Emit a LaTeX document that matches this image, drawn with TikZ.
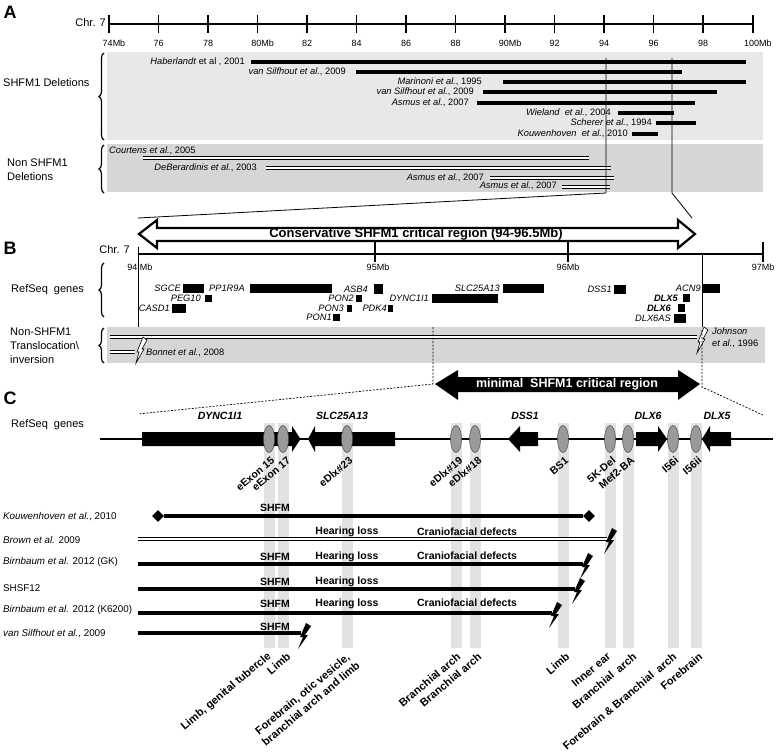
\documentclass[tikz,border=0pt]{standalone}
\usepackage{fontspec}
\setmainfont{Liberation Sans}
\usetikzlibrary{decorations.pathreplacing,shapes.geometric}
\definecolor{boxA}{HTML}{E8E8E8}
\definecolor{boxB}{HTML}{D6D6D6}
\definecolor{bandc}{HTML}{E2E2E2}
\definecolor{ellc}{HTML}{9A9A9A}
\begin{document}
\begin{tikzpicture}[x=1pt,y=-1pt,
  panel/.style={font=\fontsize{18}{20}\selectfont\bfseries, inner sep=0},
  side/.style={font=\fontsize{11}{14}\selectfont, inner sep=0, align=left, anchor=west},
  chrlab/.style={font=\fontsize{11}{13}\selectfont, inner sep=0, anchor=east},
  ticklab/.style={font=\fontsize{9}{10}\selectfont, inner sep=0},
  reflab/.style={font=\fontsize{9.3}{11}\selectfont, inner sep=0, anchor=east},
  genelab/.style={font=\fontsize{9.3}{11}\selectfont\itshape, inner sep=0, anchor=east},
  rowlab/.style={font=\fontsize{9.8}{12}\selectfont, inner sep=0, anchor=west},
  pheno/.style={font=\fontsize{10.5}{12}\selectfont\bfseries, inner sep=0},
  ctrack/.style={font=\fontsize{10.5}{12}\selectfont\bfseries\itshape, inner sep=0},
  elab/.style={font=\fontsize{10.5}{11}\selectfont\bfseries, inner sep=0, rotate=40, anchor=east},
  tlab/.style={font=\fontsize{11}{13}\selectfont\bfseries, inner sep=0, rotate=40, anchor=east, align=center},
  bar/.style={line width=4pt},
  cbar/.style={line width=3.5pt},
  dbl/.style={draw=black, line width=1.1pt, double=white, double distance=1.7pt},
  axis/.style={line width=1.5pt},
  thin/.style={line width=0.8pt},
  dsh/.style={line width=0.7pt, dash pattern=on 2pt off 1.5pt},
  brc/.style={decorate, decoration={brace, amplitude=5pt}, line width=1.2pt},
  enh/.style={ellipse, draw=black!70, fill=ellc, line width=0.5pt, minimum width=11pt, minimum height=27pt, inner sep=0},
  cbolt/.pic={\fill (2,-13) -- (7,-10) -- (1,-1) -- (4,-1) -- (-6,13) -- (-1,1) -- (-4,1) -- cycle;},
  obolt/.pic={\filldraw[fill=white, draw=black, line width=0.6pt] (3,-13) -- (7,-10) -- (2,-1) -- (4,-1) -- (-4,13) -- (-1,2) -- (-3,2) -- cycle;},
]
\useasboundingbox (0,0) rectangle (777,752);

%%%%%%%%%%%%%%%% Panel A
\node[panel] (pA) at (10,12) {A};
\fill[boxA] (107,52) rectangle (763,140);
\fill[boxB] (107,144) rectangle (763,192);
\node[chrlab] (chrA) at (106,23) {Chr. 7};
\draw[axis] (109,24) -- (752.7,24);
\foreach \v in {74,76,...,100}{\pgfmathsetmacro\xx{109+(\v-74)*24.76}\draw[axis] (\xx,15) -- (\xx,33);}
\foreach \v in {76,78,82,84,86,88,92,94,96,98}{\pgfmathsetmacro\xx{109+(\v-74)*24.76}\node[ticklab] (ta\v) at (\xx,43) {\v};}
\foreach \v in {74,80,90,100}{\pgfmathsetmacro\xx{109+(\v-74)*24.76+5}\node[ticklab] (ta\v) at (\xx,43) {\v Mb};}

\draw[brc] (104,140) -- (104,53);
\draw[brc] (104,193) -- (104,145);
\node[side] (sA1) at (3,83) {SHFM1 Deletions};
\node[side] (sA2) at (7,170) {Non SHFM1\\Deletions};

% SHFM1 deletions
\draw[bar] (251,62) -- (746,62);  \node[reflab] (a1) at (245,62) {\textit{Haberlandt} et al , 2001};
\draw[bar] (356,72) -- (682,72);  \node[reflab] (a2) at (346,72) {\textit{van Silfhout et al.}, 2009};
\draw[bar] (503,82) -- (746,82);  \node[reflab] (a3) at (482,82) {\textit{Marinoni et al.}, 1995};
\draw[bar] (483,92) -- (717,92);  \node[reflab] (a4) at (474,92) {\textit{van Silfhout et al.}, 2009};
\draw[bar] (477,103) -- (695,103); \node[reflab] (a5) at (469,103) {\textit{Asmus et al.}, 2007};
\draw[bar] (618,113) -- (674,113); \node[reflab] (a6) at (611,113) {\textit{Wieland\ \ et al.}, 2004};
\draw[bar] (656,123) -- (696,123); \node[reflab] (a7) at (652,123) {\textit{Scherer et al.}, 1994};
\draw[bar] (632,134) -- (658,134); \node[reflab] (a8) at (628,134) {\textit{Kouwenhoven\ \ et al.}, 2010};

% Non SHFM1 deletions
\node[reflab, anchor=west] (n1) at (109,151) {\textit{Courtens et al.}, 2005};
\draw[dbl] (143,158) -- (589,158);
\node[reflab] (n2) at (257,168) {\textit{DeBerardinis et al.}, 2003};
\draw[dbl] (266,168) -- (611,168);
\node[reflab] (n3) at (484,178) {\textit{Asmus et al.}, 2007};
\draw[dbl] (490,178) -- (614,178);
\node[reflab] (n4) at (557,186) {\textit{Asmus et al.}, 2007};
\draw[dbl] (562,187) -- (610,187);

% zoom lines
\draw[thin] (606,58) -- (606,193) -- (138,218);
\draw[thin] (672,58) -- (672,193) -- (692,218);

%%%%%%%%%%%%%%%% Panel B
\node[panel] (pB) at (10,248) {B};
\draw[line width=2.2pt, fill=white, line join=miter]
  (139,234) -- (157,220) -- (157,228) -- (678,228) -- (678,220) -- (695,234)
  -- (678,248) -- (678,241) -- (157,241) -- (157,248) -- cycle;
\node[font=\fontsize{13}{15}\selectfont\bfseries, inner sep=0] (cons) at (416,234.5) {Conservative SHFM1 critical region (94-96.5Mb)};

\node[chrlab] (chrB) at (130,250) {Chr. 7};
\draw[axis] (138,254) -- (763,254);
\draw[axis] (375,242) -- (375,262);
\draw[axis] (568,242) -- (568,262);
\draw[axis] (763,242) -- (763,262);
\draw[thin] (138,247) -- (138,340);
\node[ticklab] (tb94) at (140,267) {94 Mb};
\node[ticklab] (tb95) at (378,267) {95Mb};
\node[ticklab] (tb96) at (568,267) {96Mb};
\node[ticklab] (tb97) at (763,267) {97Mb};

\draw[brc] (104,317) -- (104,263);
\node[side] (sB1) at (11,290) {RefSeq\ \ genes};

% genes
\fill (183,284) rectangle (204,293); \node[genelab] (g1) at (181,288.5) {SGCE};
\fill (250,284) rectangle (332,293); \node[genelab] (g2) at (245,288.5) {PP1R9A};
\fill (205,295) rectangle (212,302); \node[genelab] (g3) at (201,298.5) {PEG10};
\fill (172,304) rectangle (186,313); \node[genelab] (g4) at (170,308.5) {CASD1};
\fill (374,284) rectangle (383,294); \node[genelab] (g5) at (368,289) {ASB4};
\fill (356,295) rectangle (362,302); \node[genelab] (g6) at (354,298.5) {PON2};
\fill (347,305) rectangle (352,312); \node[genelab] (g7) at (344,308.5) {PON3};
\fill (333,314) rectangle (340,321); \node[genelab] (g8) at (332,317.5) {PON1};
\fill (388,305) rectangle (393,312); \node[genelab] (g9) at (387,308.5) {PDK4};
\fill (432,294) rectangle (498,303); \node[genelab] (g10) at (429,298.5) {DYNC1I1};
\fill (503,284) rectangle (544,293); \node[genelab] (g11) at (500,288.5) {SLC25A13};
\fill (614,285) rectangle (626,294); \node[genelab] (g12) at (612,289.5) {DSS1};
\fill (703,284) rectangle (720,293); \node[genelab] (g13) at (701,288.5) {ACN9};
\fill (683,294) rectangle (690,302); \node[genelab, font=\fontsize{9.3}{11}\selectfont\bfseries\itshape] (g14) at (678,298) {DLX5};
\fill (678,304) rectangle (685,312); \node[genelab, font=\fontsize{9.3}{11}\selectfont\bfseries\itshape] (g15) at (671,308) {DLX6};
\fill (674,314) rectangle (686,323); \node[genelab] (g16) at (671,318.5) {DLX6AS};

% non-SHFM1 translocations
\fill[boxB] (107,327) rectangle (765,363);
\draw[brc] (104,363) -- (104,328);
\node[side, font=\fontsize{11}{14}\selectfont] (sB2) at (10,346) {Non-SHFM1\\Translocation\textbackslash\\inversion};
\coordinate (jL) at (110,337);
\coordinate (jR) at (697,337);
\draw[dbl] (jL) -- (jR);
\coordinate (bL) at (110,352);
\coordinate (bR) at (135,352);
\draw[dbl] (bL) -- (bR);
\draw[thin] (702,254) -- (702,327);
\pic at (140,350) {obolt};
\pic at (701,340) {obolt};
\node[reflab, anchor=west] (bon) at (146,353) {\textit{Bonnet et al.}, 2008};
\node[reflab, anchor=west, align=left, font=\fontsize{9.3}{12}\selectfont] (joh) at (712,338) {\textit{Johnson}\\\textit{et al.}, 1996};

% dashed projection lines
\draw[dsh] (433,327) -- (433,384) -- (138,414);
\draw[dsh] (702,330) -- (702,387) -- (763,415);

%%%%%%%%%%%%%%%% Panel C
\node[panel] (pC) at (10,398) {C};
\fill (435,384) -- (458,370) -- (458,377) -- (678,377) -- (678,370) -- (700,384)
  -- (678,400) -- (678,392) -- (458,392) -- (458,400) -- cycle;
\node[font=\fontsize{12.5}{14}\selectfont\bfseries, text=white, inner sep=0] (mini) at (567,384) {minimal\ \ SHFM1 critical region};

\node[side] (sC1) at (11,425) {RefSeq\ \ genes};

% bands
\foreach \x in {269,283,347,456,475,563,610,628,673,696}{\fill[bandc] (\x-5.5,423) rectangle (\x+5.5,648);}

% track
\draw[line width=2pt] (100,439) -- (773,439);
% gene arrows
\fill (142,432) -- (292,432) -- (292,426) -- (300.5,439) -- (292,452) -- (292,446) -- (142,446) -- cycle;
\fill (308,439) -- (315,426) -- (315,432) -- (395,432) -- (395,446) -- (315,446) -- (315,452) -- cycle;
\fill (508,439) -- (520,426) -- (520,432) -- (538,432) -- (538,446) -- (520,446) -- (520,452) -- cycle;
\fill (636,432) -- (658,432) -- (658,426) -- (667,439) -- (658,452) -- (658,446) -- (636,446) -- cycle;
\fill (702,439) -- (710,426) -- (710,432) -- (731,432) -- (731,446) -- (710,446) -- (710,452) -- cycle;
\node[ctrack] (c1) at (220,416) {DYNC1I1};
\node[ctrack] (c2) at (342,416) {SLC25A13};
\node[ctrack] (c3) at (525,416) {DSS1};
\node[ctrack] (c4) at (648,416) {DLX6};
\node[ctrack] (c5) at (717,416) {DLX5};

% enhancer ellipses and labels
\node[enh] (e1) at (269,439) {};
\node[enh] (e2) at (283,439) {};
\node[enh] (e3) at (347,439) {};
\node[enh] (e4) at (456,439) {};
\node[enh] (e5) at (475,439) {};
\node[enh] (e6) at (563,439) {};
\node[enh] (e7) at (610,439) {};
\node[enh] (e8) at (628,439) {};
\node[enh] (e9) at (673,439) {};
\node[enh] (e10) at (696,439) {};
\node[elab] (l1) at (273,459) {eExon 15};
\node[elab] (l2) at (289,459) {eExon 17};
\node[elab] (l3) at (351,459) {eDlx\#23};
\node[elab] (l4) at (461,459) {eDlx\#19};
\node[elab] (l5) at (480,459) {eDlx\#18};
\node[elab] (l6) at (567,459) {BS1};
\node[elab] (l7) at (614,459) {5K-Del};
\node[elab] (l8) at (633,459) {Mef2-BA};
\node[elab] (l9) at (677,459) {I56i};
\node[elab] (l10) at (700,459) {I56ii};

% rows
\node[rowlab] (r1) at (3,517) {\textit{Kouwenhoven et al.}, 2010};
\node[diamond, fill=black, minimum size=12pt, inner sep=0] (d1) at (158,516) {};
\node[diamond, fill=black, minimum size=12pt, inner sep=0] (d2) at (589,516) {};
\draw[cbar] (d1) -- (d2);
\node[pheno] (p11) at (275,508) {SHFM};

\node[rowlab] (r2) at (3,540) {\textit{Brown et al.} 2009};
\coordinate (r2s) at (138,539); \coordinate (r2e) at (607,539);
\draw[dbl] (r2s) -- (r2e);
\pic at (610,541) {cbolt};
\node[pheno] (p22) at (347,532) {Hearing loss};
\node[pheno] (p23) at (467,532) {Craniofacial defects};

\node[rowlab] (r3) at (3,562) {\textit{Birnbaum et al.} 2012 (GK)};
\coordinate (r3s) at (138,564); \coordinate (r3e) at (583,564);
\draw[cbar] (r3s) -- (r3e);
\pic at (586,566) {cbolt};
\node[pheno] (p31) at (275,557) {SHFM};
\node[pheno] (p32) at (347,557) {Hearing loss};
\node[pheno] (p33) at (467,556) {Craniofacial defects};

\node[rowlab] (r4) at (3,588) {SHSF12};
\coordinate (r4s) at (138,589); \coordinate (r4e) at (575,589);
\draw[cbar] (r4s) -- (r4e);
\pic at (578,591) {cbolt};
\node[pheno] (p41) at (275,582) {SHFM};
\node[pheno] (p42) at (347,582) {Hearing loss};

\node[rowlab] (r5) at (3,610) {\textit{Birnbaum et al.} 2012 (K6200)};
\coordinate (r5s) at (138,613); \coordinate (r5e) at (552,613);
\draw[cbar] (r5s) -- (r5e);
\pic at (555,615) {cbolt};
\node[pheno] (p51) at (275,604) {SHFM};
\node[pheno] (p52) at (347,604) {Hearing loss};
\node[pheno] (p53) at (467,603) {Craniofacial defects};

\node[rowlab] (r6) at (3,634) {\textit{van Silfhout et al.}, 2009};
\coordinate (r6s) at (138,633); \coordinate (r6e) at (301,633);
\draw[cbar] (r6s) -- (r6e);
\pic at (304,636) {cbolt};
\node[pheno] (p61) at (275,627) {SHFM};

% tissue labels
\node[tlab] (t1) at (270,655) {Limb, genital tubercle};
\node[tlab] (t2) at (289,655) {Limb};
\node[tlab] (t3) at (354,659) {Forebrain, otic vesicle,\\branchial arch and limb};
\node[tlab] (t4) at (459,655) {Branchial arch};
\node[tlab] (t5) at (480,655) {Branchial arch};
\node[tlab] (t6) at (568,655) {Limb};
\node[tlab] (t7) at (609,655) {Inner ear};
\node[tlab] (t8) at (635,655) {Branchial\ \ arch};
\node[tlab] (t9) at (675,655) {Forebrain \& Branchial\ \ arch};
\node[tlab] (t10) at (701,655) {Forebrain};
\end{tikzpicture}
\end{document}
